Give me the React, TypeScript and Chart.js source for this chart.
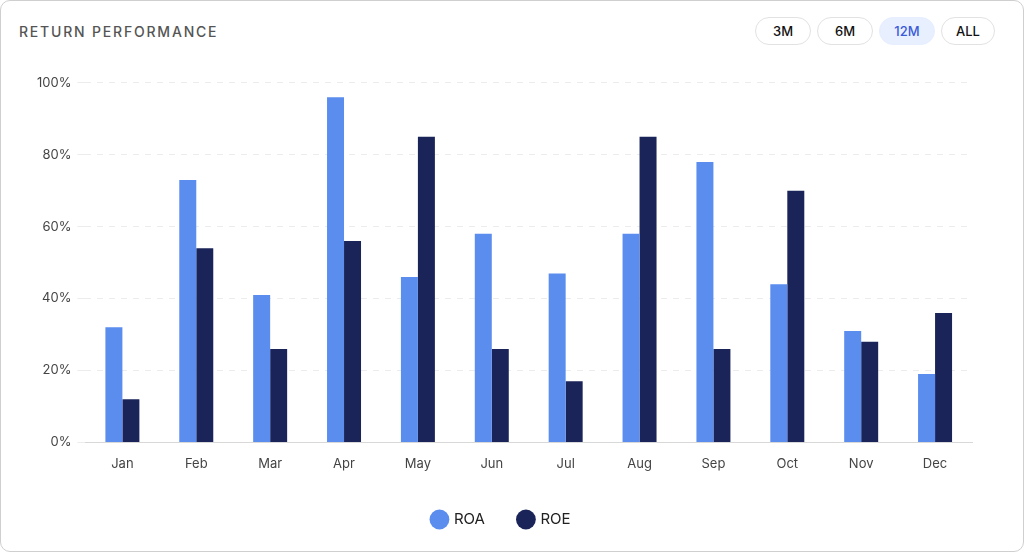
import { useEffect, useRef } from 'react';
import Chart from 'chart.js/auto';

const months = ['Jan', 'Feb', 'Mar', 'Apr', 'May', 'Jun', 'Jul', 'Aug', 'Sep', 'Oct', 'Nov', 'Dec'];
const roa = [32, 73, 41, 96, 46, 58, 47, 58, 78, 44, 31, 19];
const roe = [12, 54, 26, 56, 85, 26, 17, 85, 26, 70, 28, 36];
const ranges = ['3M', '6M', '12M', 'ALL'];

const App = () => {
  const canvasRef = useRef<HTMLCanvasElement | null>(null);
  const chartRef = useRef<Chart | null>(null);

  useEffect(() => {
    document.body.style.margin = '0';
    if (!canvasRef.current) return;
    chartRef.current?.destroy();
    chartRef.current = new Chart(canvasRef.current, {
      type: 'bar',
      data: {
        labels: months,
        datasets: [
          { label: 'ROA', data: roa, backgroundColor: '#5B8DEF', categoryPercentage: 0.46, barPercentage: 1 },
          { label: 'ROE', data: roe, backgroundColor: '#1A2458', categoryPercentage: 0.46, barPercentage: 1 },
        ],
      },
      options: {
        animation: false,
        responsive: true,
        maintainAspectRatio: false,
        layout: { padding: { left: 30, right: 4, top: 0, bottom: 0 } },
        plugins: {
          tooltip: { enabled: false },
          legend: {
            position: 'bottom',
            labels: {
              usePointStyle: true,
              pointStyle: 'circle',
              boxWidth: 14,
              boxHeight: 14,
              padding: 34,
              color: '#222',
              font: { family: 'Inter', size: 15 },
            },
          },
        },
        scales: {
          x: {
            grid: { display: false },
            border: { color: '#d8d8d8' },
            ticks: { color: '#444', font: { family: 'Inter', size: 13 }, padding: 6 },
          },
          y: {
            min: 0,
            max: 100,
            ticks: { stepSize: 20, color: '#444', font: { family: 'Inter', size: 13 }, callback: v => `${v}%`, padding: 6 },
            grid: { color: '#ececec' },
            border: { display: false, dash: [6, 6] },
          },
        },
      },
    });
    return () => {
      chartRef.current?.destroy();
      chartRef.current = null;
    };
  }, []);

  return (
    <div style={{ position: 'relative', width: 1022, height: 550, border: '1px solid #cfcfcf', borderRadius: 10, background: '#fff', fontFamily: 'Inter, sans-serif' }}>
      <div style={{ position: 'absolute', left: 18, top: 22, fontSize: 14, letterSpacing: 1.8, color: '#555', fontWeight: 500 }}>RETURN PERFORMANCE</div>
      <div style={{ position: 'absolute', right: 28, top: 16, display: 'flex', gap: 6 }}>
        {ranges.map(r => (
          <div key={r} style={{
            width: r === 'ALL' ? 54 : 56, height: 28, borderRadius: 14, boxSizing: 'border-box',
            border: r === '12M' ? '1px solid #e6eeff' : '1px solid #e2e2e2', background: r === '12M' ? '#e8efff' : '#fff',
            color: r === '12M' ? '#3b5bd6' : '#111', fontSize: 13, fontWeight: 500,
            display: 'flex', alignItems: 'center', justifyContent: 'center',
          }}>{r}</div>
        ))}
      </div>
      <div style={{ position: 'absolute', left: 0, top: 68, width: 975, height: 468 }}>
        <canvas ref={canvasRef} />
      </div>
    </div>
  );
};

export default App;
